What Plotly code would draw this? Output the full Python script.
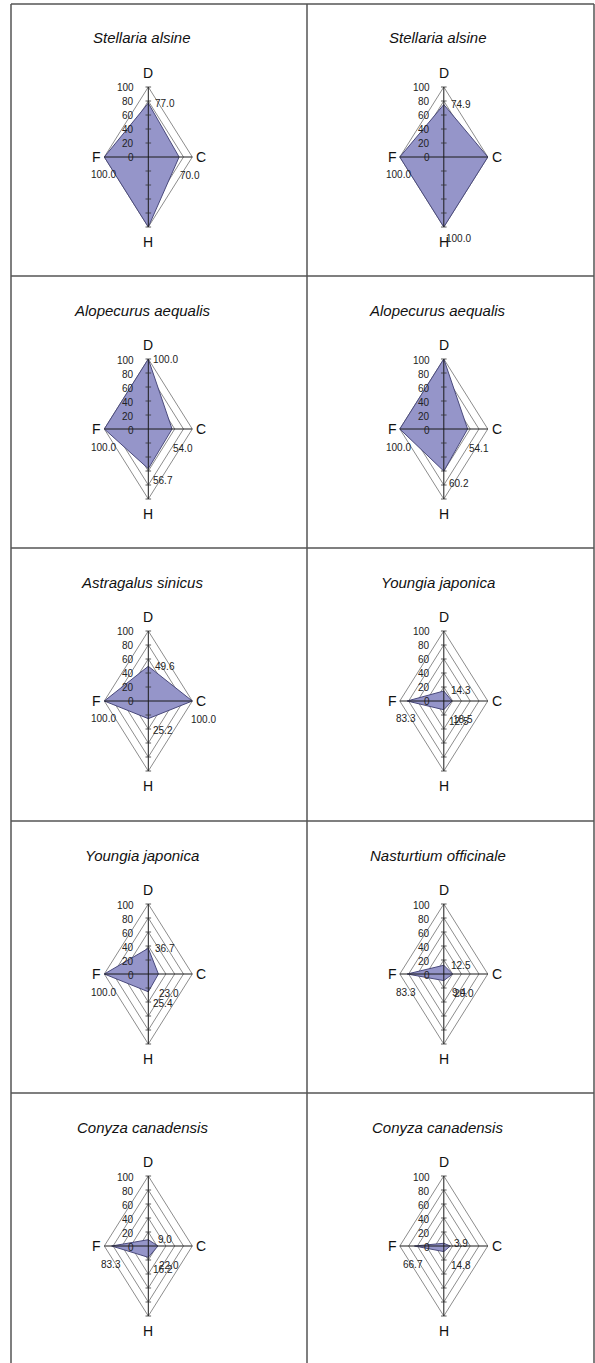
import plotly.graph_objects as go

W, H = 595, 1363

titles = ["Stellaria alsine", "Stellaria alsine",
          "Alopecurus aequalis", "Alopecurus aequalis",
          "Astragalus sinicus", "Youngia japonica",
          "Youngia japonica", "Nasturtium officinale",
          "Conyza canadensis", "Conyza canadensis"]
axis_names = ["D", "C", "H", "F"]
d_vals = [77.0, 74.9, 100.0, 100.0, 49.6, 14.3, 36.7, 12.5, 9.0, 3.9]
c_vals = [70.0, 100.0, 54.0, 54.1, 100.0, 18.5, 23.0, 20.0, 22.0, 14.8]
h_vals = [100.0, 100.0, 56.7, 60.2, 25.2, 12.5, 25.4, 9.4, 16.2, 8.0]
f_vals = [100.0, 100.0, 100.0, 100.0, 100.0, 83.3, 100.0, 83.3, 83.3, 66.7]
hidden_labels = [(0, "H"), (1, "C"), (3, "D"), (9, "H")]
ring_ticks = [0, 20, 40, 60, 80, 100]

FONT = "Liberation Sans Narrow, Arial Narrow, Liberation Sans, sans-serif"
FILL = "#9595c9"
EDGE = "#4a4a7c"
GRID = "#6e6e6e"

col_cx = [148.3, 443.8]
row_top = [4, 276, 548, 821, 1093]

fig = go.Figure()
annotations = []
dirs = {"D": (0, 1), "C": (1, 0), "H": (0, -1), "F": (-1, 0)}
lab_shift = {"D": (17, 0), "C": (11, -19), "H": (15, -12), "F": (-1, -18)}

for i, title in enumerate(titles):
    k = i + 1
    col, row = i % 2, i // 2
    cx = col_cx[col]
    cy = row_top[row] + 153
    xa = "x" if k == 1 else f"x{k}"
    ya = "y" if k == 1 else f"y{k}"
    xkey = "xaxis" if k == 1 else f"xaxis{k}"
    ykey = "yaxis" if k == 1 else f"yaxis{k}"
    fig.layout[xkey] = dict(domain=[(cx - 110) / W, (cx + 110) / W], range=[-250, 250],
                            visible=False, fixedrange=True, anchor=ya)
    fig.layout[ykey] = dict(domain=[1 - (cy + 105) / H, 1 - (cy - 105) / H], range=[-150, 150],
                            visible=False, fixedrange=True, anchor=xa)

    # grid rings
    for r in ring_ticks[1:]:
        fig.add_trace(go.Scatter(x=[0, r, 0, -r, 0], y=[r, 0, -r, 0, r], mode="lines",
                                 line=dict(color=GRID, width=0.8), xaxis=xa, yaxis=ya,
                                 hoverinfo="skip", showlegend=False))
    vals = {"D": d_vals[i], "C": c_vals[i], "H": h_vals[i], "F": f_vals[i]}
    px = [dirs[a][0] * vals[a] for a in axis_names] + [dirs["D"][0] * vals["D"]]
    py = [dirs[a][1] * vals[a] for a in axis_names] + [dirs["D"][1] * vals["D"]]
    fig.add_trace(go.Scatter(x=px, y=py, mode="lines", fill="toself", fillcolor=FILL,
                             line=dict(color=EDGE, width=1), xaxis=xa, yaxis=ya,
                             hoverinfo="skip", showlegend=False))
    # axis cross
    fig.add_trace(go.Scatter(x=[0, 0, None, -100, 100], y=[100, -100, None, 0, 0], mode="lines",
                             line=dict(color="#1a1a1a", width=1), xaxis=xa, yaxis=ya,
                             hoverinfo="skip", showlegend=False))
    # tick marks on the vertical axis
    tv = [t for t in ring_ticks[1:]] + [-t for t in ring_ticks[1:]]
    fig.add_trace(go.Scatter(x=[0] * len(tv), y=tv, mode="markers",
                             marker=dict(symbol="line-ew", size=4, line=dict(color="#333", width=0.8)),
                             xaxis=xa, yaxis=ya, hoverinfo="skip", showlegend=False))

    # title
    annotations.append(dict(text=f"<i>{title}</i>", xref="paper", yref="paper",
                            x=(cx - 6) / W, y=1 - (row_top[row] + 34) / H,
                            xanchor="center", yanchor="middle",
                            showarrow=False, font=dict(family=FONT, size=15, color="#111")))
    # axis letters
    annotations.append(dict(text="D", xref=xa, yref=ya, x=0, y=100, yshift=14, showarrow=False,
                            xanchor="center", font=dict(family=FONT, size=14, color="#111")))
    annotations.append(dict(text="C", xref=xa, yref=ya, x=100, y=0, xanchor="left", xshift=2,
                            showarrow=False, font=dict(family=FONT, size=14, color="#111")))
    annotations.append(dict(text="H", xref=xa, yref=ya, x=0, y=-100, yshift=-15, showarrow=False,
                            xanchor="center", font=dict(family=FONT, size=14, color="#111")))
    annotations.append(dict(text="F", xref=xa, yref=ya, x=-100, y=0, xanchor="right", xshift=-1,
                            showarrow=False, font=dict(family=FONT, size=14, color="#111")))
    # ring tick labels
    for t in ring_ticks:
        annotations.append(dict(text=str(t), xref=xa, yref=ya, x=0, y=t, xanchor="right",
                                xshift=-12, yshift=-1, showarrow=False,
                                font=dict(family=FONT, size=10, color="#222")))
    # value labels
    for a in axis_names:
        if (i, a) in hidden_labels:
            continue
        v = vals[a]
        annotations.append(dict(text=f"{v:.1f}", xref=xa, yref=ya,
                                x=dirs[a][0] * v, y=dirs[a][1] * v, xanchor="center",
                                xshift=lab_shift[a][0], yshift=lab_shift[a][1], showarrow=False,
                                font=dict(family=FONT, size=10, color="#222")))

shapes = []
LC = "#555555"
for xv in [11, 307, 594]:
    shapes.append(dict(type="line", xref="paper", yref="paper", x0=xv / W, x1=xv / W,
                       y0=1 - 4 / H, y1=0, line=dict(color=LC, width=1.5)))
for yv in row_top:
    shapes.append(dict(type="line", xref="paper", yref="paper", x0=11 / W, x1=594 / W,
                       y0=1 - yv / H, y1=1 - yv / H, line=dict(color=LC, width=1.5)))

fig.update_layout(width=W, height=H, margin=dict(l=0, r=0, t=0, b=0),
                  paper_bgcolor="white", plot_bgcolor="white",
                  annotations=annotations, shapes=shapes, showlegend=False)
fig.write_html("out.html", config={"displayModeBar": False},
               post_script="document.body.style.margin='0px';document.body.style.overflow='hidden';")
